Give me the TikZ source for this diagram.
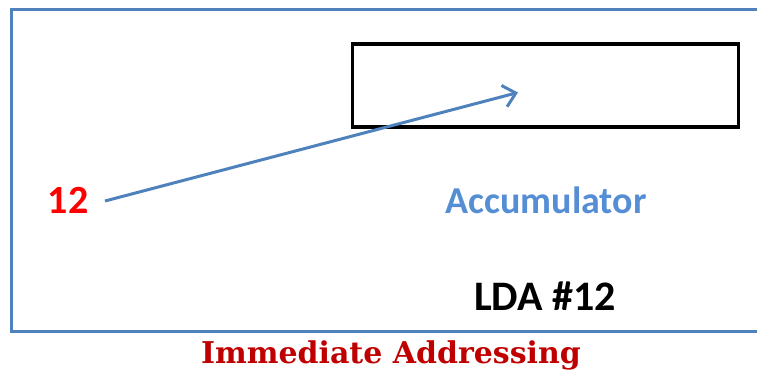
\documentclass[tikz,border=0pt]{standalone}
\usepackage{fontspec}
\setmainfont{Carlito}
\newfontfamily\headfont{DejaVu Serif}
\usetikzlibrary{arrows.meta}
\definecolor{frameblue}{HTML}{4F81BD}
\definecolor{labelblue}{HTML}{558ED5}
\definecolor{darkred}{HTML}{C00000}
\tikzset{
  frame/.style={draw=frameblue, line width=3pt},
  register/.style={draw=black, line width=3.5pt},
  flow/.style={draw=frameblue, line width=3pt,
    -{Straight Barb[length=12pt,width=22pt,line width=3pt]}},
  bigtext/.style={font=\fontsize{38}{44}\selectfont\bfseries, inner sep=0pt},
}
\begin{document}
\begin{tikzpicture}[x=1pt, y=-1pt]
  \useasboundingbox (0,0) rectangle (757,372);
  \begin{scope}
    \clip (0,0) rectangle (757,372);
    % outer frame, running off the right edge
    \draw[frame] (11.5,9.5) rectangle (770,331.5);
  \end{scope}
  % accumulator register
  \node[register, minimum width=386pt, minimum height=83pt, inner sep=0pt]
    (acc) at (545.5,85.5) {};
  \node[bigtext, font=\fontsize{40}{46}\selectfont\bfseries, text=red] (val) at (68,200) {12};
  \node[bigtext, text=labelblue] (acclbl) at (546,200) {Accumulator};
  \node[bigtext, font=\fontsize{42}{48}\selectfont\bfseries, text=black] (instr) at (545,296) {LDA \#12};
  \node[font=\headfont\fontsize{30}{36}\selectfont\bfseries, text=darkred, inner sep=0pt]
    (title) at (391,355) {Immediate Addressing};
  \coordinate (tip) at (518,92.5);
  \draw[flow] (105,201) -- (tip);
\end{tikzpicture}
\end{document}
